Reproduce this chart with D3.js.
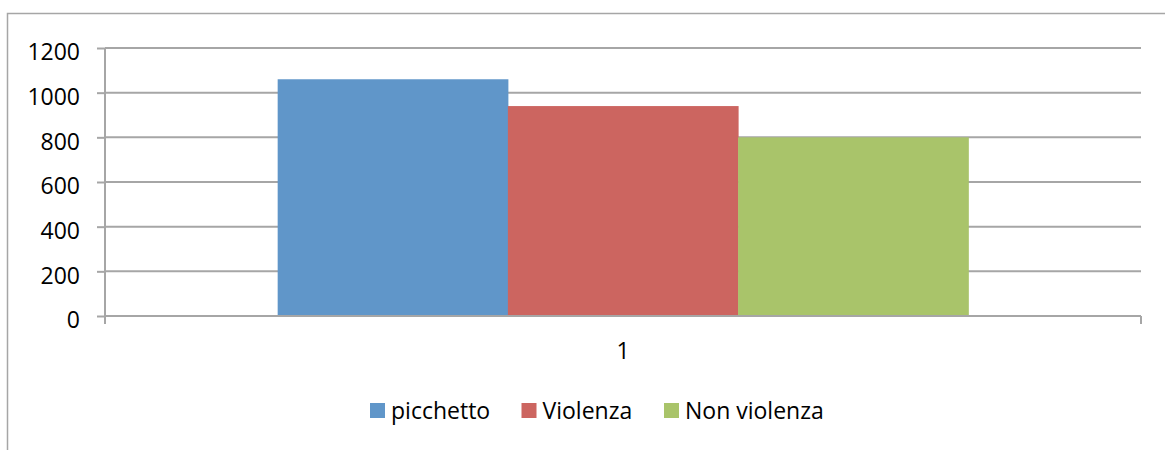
<!DOCTYPE html>
<html>
<head>
<meta charset="utf-8">
<script src="https://cdn.jsdelivr.net/npm/d3@7"></script>
<style>
  body { margin: 0; background: #fff; }
  text { font-family: "Open Sans", sans-serif; fill: #000; }
</style>
</head>
<body>
<script>
// Define SVG area dimensions
var svgWidth = 1165;
var svgHeight = 450;

// Chart data
var categories = ["1"];
var seriesNames = ["picchetto", "Violenza", "Non violenza"];
var seriesValues = [1060, 940, 800];
var seriesColors = ["#6096c9", "#cc6560", "#a9c46a"];
var yTicks = [0, 200, 400, 600, 800, 1000, 1200];

// Plot area
var plot = { left: 105, right: 1141, top: 48, bottom: 316 };

var svg = d3.select("body")
  .append("svg")
  .attr("width", svgWidth)
  .attr("height", svgHeight);

// outer chart border (runs off the right and bottom edges)
svg.append("rect")
  .attr("x", 7.5)
  .attr("y", 13.5)
  .attr("width", 1170)
  .attr("height", 460)
  .attr("fill", "none")
  .attr("stroke", "#a6a6a6")
  .attr("stroke-width", 1.5);

var yScale = d3.scaleLinear()
  .domain([0, 1200])
  .range([plot.bottom, plot.top]);

var xBandScale = d3.scaleBand()
  .domain(categories)
  .range([plot.left, plot.right])
  .paddingInner(0)
  .paddingOuter(0.25);

var xSeries = d3.scaleBand()
  .domain(seriesNames)
  .range([0, xBandScale.bandwidth()]);

// gridlines
svg.append("g")
  .selectAll("line")
  .data(yTicks.filter(d => d > 0))
  .enter()
  .append("line")
  .attr("x1", plot.left)
  .attr("x2", plot.right)
  .attr("y1", d => yScale(d))
  .attr("y2", d => yScale(d))
  .attr("stroke", "#a6a6a6")
  .attr("stroke-width", 2);

// bars
svg.append("g")
  .selectAll("rect")
  .data(seriesValues)
  .enter()
  .append("rect")
  .attr("x", (d, i) => xBandScale(categories[0]) + xSeries(seriesNames[i]))
  .attr("width", xSeries.bandwidth() + 0.5)
  .attr("y", d => yScale(d))
  .attr("height", d => yScale(0) - yScale(d))
  .attr("fill", (d, i) => seriesColors[i]);

// y axis
var leftAxis = d3.axisLeft(yScale)
  .tickValues(yTicks)
  .tickFormat(d3.format("d"))
  .tickSize(8)
  .tickPadding(17)
  .tickSizeOuter(0);

var yAxisG = svg.append("g")
  .attr("transform", `translate(${plot.left}, 0)`)
  .call(leftAxis);
yAxisG.select(".domain").remove();
yAxisG.selectAll(".tick line").attr("stroke", "#a6a6a6").attr("stroke-width", 2);
yAxisG.selectAll(".tick text")
  .attr("font-size", 23)
  .attr("dy", "0.52em")
  .attr("font-family", "Open Sans, sans-serif");

// y axis line (runs down to the x ticks)
svg.append("line")
  .attr("x1", plot.left).attr("x2", plot.left)
  .attr("y1", plot.top).attr("y2", plot.bottom + 8)
  .attr("stroke", "#a6a6a6").attr("stroke-width", 2);

// x axis
var xAxisG = svg.append("g");
xAxisG.append("line")
  .attr("x1", plot.left).attr("x2", plot.right)
  .attr("y1", plot.bottom).attr("y2", plot.bottom)
  .attr("stroke", "#a6a6a6").attr("stroke-width", 2);
xAxisG.append("line")
  .attr("x1", plot.right).attr("x2", plot.right)
  .attr("y1", plot.bottom).attr("y2", plot.bottom + 8)
  .attr("stroke", "#a6a6a6").attr("stroke-width", 2);
xAxisG.selectAll("text")
  .data(categories)
  .enter()
  .append("text")
  .attr("x", d => xBandScale(d) + xBandScale.bandwidth() / 2)
  .attr("y", 359)
  .attr("text-anchor", "middle")
  .attr("font-size", 23)
  .text(d => d);

// legend
var legendX = [370, 521.5, 664];
var legend = svg.append("g")
  .selectAll("g")
  .data(seriesNames)
  .enter()
  .append("g")
  .attr("transform", (d, i) => `translate(${legendX[i]}, 403)`);

legend.append("rect")
  .attr("width", 15)
  .attr("height", 15)
  .attr("fill", (d, i) => seriesColors[i]);

legend.append("text")
  .attr("x", 21)
  .attr("y", 16)
  .attr("font-size", 23)
  .text(d => d);
</script>
</body>
</html>
